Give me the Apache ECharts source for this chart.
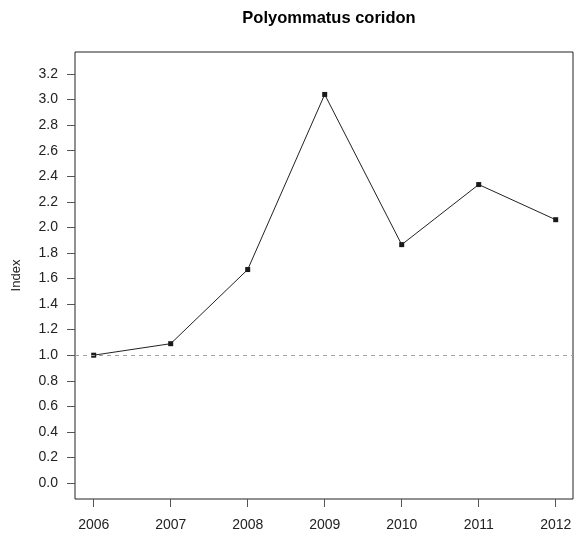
<!DOCTYPE html>
<html>
<head>
<meta charset="utf-8">
<script src="https://cdn.jsdelivr.net/npm/echarts@6/dist/echarts.min.js"></script>
<style>
  html, body { margin: 0; padding: 0; background: #fff; }
  #chart { width: 576px; height: 537px; }
</style>
</head>
<body>
<div id="chart"></div>
<script>
// data
var years = [2006, 2007, 2008, 2009, 2010, 2011, 2012];
var indexValues = [1.0, 1.09, 1.67, 3.04, 1.865, 2.335, 2.06];
var yTickValues = [0, 0.2, 0.4, 0.6, 0.8, 1.0, 1.2, 1.4, 1.6, 1.8, 2.0, 2.2, 2.4, 2.6, 2.8, 3.0, 3.2];
var refLevel = 1.0;
var titleText = 'Polyommatus coridon';
var yName = 'Index';

var font = '"Liberation Sans", Arial, Helvetica, sans-serif';

// plot box (pixels) and where the first/last ticks sit inside it
var box = { left: 75, right: 573, top: 52, bottom: 499 };
var inner = { left: 93.7, right: 555.7, top: 74, bottom: 483 };

var yFirst = yTickValues[0], yLast = yTickValues[yTickValues.length - 1];
var xFirst = years[0], xLast = years[years.length - 1];
var xPerPx = (xLast - xFirst) / (inner.right - inner.left);
var yPerPx = (yLast - yFirst) / (inner.bottom - inner.top);

var chart = echarts.init(document.getElementById('chart'), null, { renderer: 'canvas' });

var option = {
  animation: false,
  backgroundColor: '#fff',
  title: {
    text: titleText,
    left: (box.left + box.right) / 2,
    textAlign: 'center',
    top: 5,
    textStyle: { fontFamily: font, fontWeight: 'bold', fontSize: 16.5, color: '#000' }
  },
  grid: {
    left: box.left, right: 576 - box.right, top: box.top, bottom: 537 - box.bottom,
    outerBoundsMode: 'none', containLabel: false,
    show: true, borderColor: '#222', borderWidth: 1, backgroundColor: 'transparent'
  },
  xAxis: {
    type: 'value',
    min: xFirst - (inner.left - box.left) * xPerPx,
    max: xLast + (box.right - inner.right) * xPerPx,
    axisLine: { show: false, onZero: false },
    axisTick: { show: true, inside: false, length: 8, customValues: years, lineStyle: { color: '#555' } },
    axisLabel: { fontFamily: font, fontSize: 14, color: '#222', margin: 19, customValues: years,
      formatter: function (v) { return String(v); } },
    splitLine: { show: false }
  },
  yAxis: {
    type: 'value',
    min: yFirst - (box.bottom - inner.bottom) * yPerPx,
    max: yLast + (inner.top - box.top) * yPerPx,
    name: yName, nameLocation: 'middle', nameGap: 52, nameRotate: 90,
    nameTextStyle: { fontFamily: font, fontSize: 13, color: '#222' },
    axisLine: { show: false, onZero: false },
    axisTick: { show: true, inside: false, length: 8, customValues: yTickValues, lineStyle: { color: '#555' } },
    axisLabel: { fontFamily: font, fontSize: 14, color: '#222', margin: 17, customValues: yTickValues,
      formatter: function (v) { return v.toFixed(1); } },
    splitLine: { show: false }
  },
  series: [
    {
      type: 'line',
      data: years.map(function (y, i) { return [y, indexValues[i]]; }),
      symbol: 'rect', symbolSize: 5,
      itemStyle: { color: '#1a1a1a' },
      lineStyle: { color: '#222', width: 1 },
      markLine: {
        silent: true, symbol: 'none', label: { show: false },
        lineStyle: { color: '#a0a0a0', type: [4, 4], width: 1 },
        data: [{ yAxis: refLevel }]
      },
      z: 3
    }
  ]
};

chart.setOption(option);
</script>
</body>
</html>
